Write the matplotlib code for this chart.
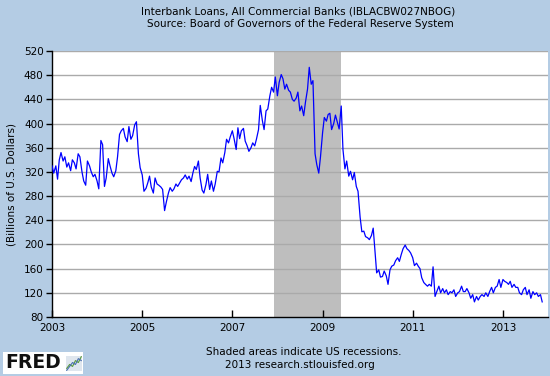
import numpy as np
import pandas as pd
import matplotlib
matplotlib.use("Agg")
import matplotlib.pyplot as plt
import matplotlib.dates as mdates
from matplotlib.patches import Rectangle

# semi-monthly readings of the weekly series, billions of dollars
v2003 = [330, 318, 330, 308, 340, 352, 338, 345, 328, 335, 322, 340,
         335, 325, 350, 345, 320, 305, 298, 338, 330, 320, 312, 316]
v2004 = [305, 292, 372, 365, 296, 310, 342, 330, 318, 312, 322, 345,
         382, 388, 392, 378, 370, 395, 374, 380, 398, 403, 350, 327]
v2005 = [315, 288, 293, 302, 313, 295, 285, 310, 300, 298, 295, 291,
         256, 270, 285, 294, 288, 292, 300, 296, 302, 307, 310, 315]
v2006 = [308, 313, 304, 318, 329, 324, 338, 310, 290, 285, 299, 316,
         291, 305, 288, 300, 321, 320, 343, 335, 352, 374, 368, 378]
v2007 = [388, 375, 357, 393, 375, 388, 392, 371, 363, 354, 360, 368,
         363, 374, 390, 430, 405, 390, 421, 424, 446, 460, 452, 477]
v2008 = [446, 468, 481, 474, 457, 465, 455, 452, 440, 437, 442, 452,
         421, 429, 413, 435, 457, 493, 465, 471, 350, 332, 318, 345]
v2009 = [385, 410, 404, 415, 417, 390, 400, 414, 402, 391, 429, 357,
         325, 338, 313, 321, 307, 319, 296, 288, 245, 221, 222, 213]
v2010 = [211, 208, 215, 227, 191, 153, 158, 146, 147, 156, 148, 134,
         158, 164, 166, 173, 178, 172, 184, 193, 199, 193, 190, 186]
v2011 = [178, 165, 169, 164, 160, 145, 137, 134, 131, 134, 131, 163,
         114, 122, 131, 120, 127, 120, 125, 117, 122, 120, 125, 114]
v2012 = [120, 122, 131, 122, 122, 127, 120, 111, 117, 105, 114, 108,
         114, 117, 114, 120, 114, 122, 129, 120, 129, 131, 142, 129]
v2013 = [142, 139, 137, 134, 139, 129, 134, 129, 129, 120, 117, 125,
         129, 117, 125, 111, 122, 117, 120, 114, 117, 105]

values = v2003 + v2004 + v2005 + v2006 + v2007 + v2008 + v2009 + v2010 + v2011 + v2012 + v2013
dates = pd.date_range("2003-01-01", periods=len(values), freq="SMS")

rec_start = "2007-12-01"
rec_end = "2009-06-01"

y_ticks = list(range(80, 521, 40))
x_years = [2003, 2005, 2007, 2009, 2011, 2013]

bg = "#b4cce4"

fig = plt.figure(figsize=(5.5, 3.76), dpi=100, facecolor=bg)
ax = fig.add_axes([52 / 550, 1 - 317 / 376, 496 / 550, 266 / 376])
ax.set_facecolor("white")

ax.axvspan(pd.Timestamp(rec_start), pd.Timestamp(rec_end), color="#bebebe", lw=0, zorder=1)
for t in y_ticks[1:]:
    ax.axhline(t, color="#aaaaaa", lw=1.0, zorder=2)
ax.plot(dates, values, color="#0000ff", lw=0.9, zorder=3)

ax.set_ylim(80, 520)
ax.set_xlim(pd.Timestamp("2003-01-01"), pd.Timestamp("2014-01-01"))
ax.set_yticks(y_ticks)
ax.set_xticks([pd.Timestamp(f"{y}-01-01") for y in x_years])
ax.xaxis.set_major_formatter(mdates.DateFormatter("%Y"))

for s in ["top", "right"]:
    ax.spines[s].set_visible(False)
for s in ["left", "bottom"]:
    ax.spines[s].set_color("black")
    ax.spines[s].set_linewidth(1.0)

ax.tick_params(axis="y", direction="out", length=4, width=1, labelsize=7.5, pad=2, colors="black")
ax.tick_params(axis="x", direction="in", length=5, width=1, labelsize=7.5, pad=4, colors="black")
ax.set_ylabel("(Billions of U.S. Dollars)", fontsize=7.5, labelpad=5)

fig.text(298 / 550, 1 - 11 / 376, "Interbank Loans, All Commercial Banks (IBLACBW027NBOG)",
         ha="center", va="center", fontsize=7.5)
fig.text(300 / 550, 1 - 24 / 376, "Source: Board of Governors of the Federal Reserve System",
         ha="center", va="center", fontsize=7.5)
fig.text(304 / 550, 1 - 352 / 376, "Shaded areas indicate US recessions.",
         ha="center", va="center", fontsize=7.5)
fig.text(300 / 550, 1 - 365 / 376, "2013 research.stlouisfed.org",
         ha="center", va="center", fontsize=7.5)

# FRED logo box
box = Rectangle((3 / 550, 2 / 376), 80 / 550, 22 / 376, transform=fig.transFigure,
                facecolor="white", edgecolor="none", zorder=-1)
fig.patches.append(box)
fig.text(5 / 550, 1 - 363 / 376, "FRED", ha="left", va="center", fontsize=13.5,
         fontweight="bold", color="#111111")
logo = fig.add_axes([66 / 550, 5 / 376, 16 / 550, 15 / 376])
logo.set_zorder(3)
logo.set_facecolor("#dfe6ee")
logo.plot([0, 1, 2, 3, 4, 5], [1, 2, 1.5, 3, 2.5, 4], color="#5a9a3a", lw=0.8)
logo.plot([0, 1, 2, 3, 4, 5], [0.5, 1.5, 2.5, 2, 3.5, 3], color="#4a6fb0", lw=0.8)
logo.set_xticks([])
logo.set_yticks([])
for s in logo.spines.values():
    s.set_visible(False)

fig.savefig("out.png", dpi=100, facecolor=bg)
